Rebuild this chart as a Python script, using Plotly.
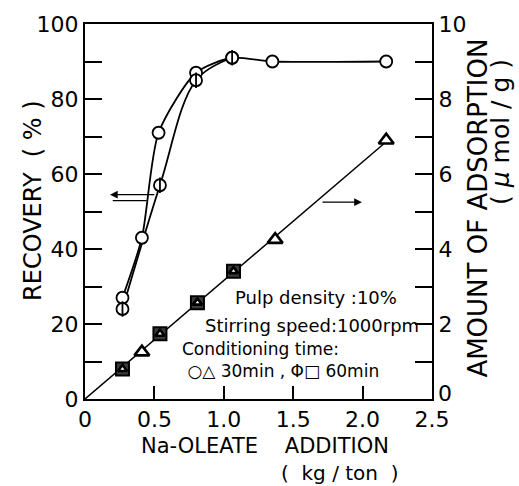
import numpy as np
import plotly.graph_objects as go

# ---------------- data ----------------
rec30_x = [0.27, 0.41, 0.53, 0.80, 1.06, 1.35, 2.17]
rec30_y = [27, 43, 71, 87, 91, 90, 90]
rec60_x = [0.27, 0.54, 0.80, 1.06]
rec60_y = [24, 57, 85, 91]

ads30_x = [0.27, 0.41, 0.54, 0.81, 1.07, 1.37, 2.17]
ads30_y = [0.80, 1.25, 1.74, 2.57, 3.41, 4.25, 6.90]
ads60_x = [0.27, 0.54, 0.81, 1.07]
ads60_y = [0.80, 1.74, 2.57, 3.41]

x_ticks = [0, 0.5, 1.0, 1.5, 2.0, 2.5]
x_ticktext = ["0", "0.5", "1.0", "1.5", "2.0", "2.5"]
y1_ticks = list(range(0, 101, 10))
y1_ticktext = [str(v) if v % 20 == 0 else "" for v in y1_ticks]
y2_ticks = list(range(0, 11))
y2_ticktext = [str(v) if (v % 2 == 0 and v > 0) else "" for v in y2_ticks]

# straight line through origin fitted to the adsorption data
ax_arr = np.array(ads30_x)
ay_arr = np.array(ads30_y)
slope = float((ax_arr * ay_arr).sum() / (ax_arr ** 2).sum())
fit_x = [0.0, max(ads30_x)]
fit_y = [v * slope for v in fit_x]

FONT = "DejaVu Sans"
BLACK = "#000000"

fig = go.Figure()

# recovery curves
fig.add_trace(go.Scatter(x=rec30_x, y=rec30_y, mode="lines",
                         line=dict(color=BLACK, width=1.8, shape="spline", smoothing=0.7),
                         showlegend=False))
fig.add_trace(go.Scatter(x=rec60_x, y=rec60_y, mode="lines",
                         line=dict(color=BLACK, width=1.8, shape="spline", smoothing=1.0),
                         showlegend=False))
# adsorption line
fig.add_trace(go.Scatter(x=fit_x, y=fit_y, mode="lines", yaxis="y2",
                         line=dict(color=BLACK, width=1.5), showlegend=False))

# recovery markers
fig.add_trace(go.Scatter(x=rec30_x, y=rec30_y, mode="markers",
                         marker=dict(symbol="circle", size=12, color="white",
                                     line=dict(color=BLACK, width=1.8)), showlegend=False))
fig.add_trace(go.Scatter(x=rec60_x, y=rec60_y, mode="markers",
                         marker=dict(symbol="circle", size=12, color="white",
                                     line=dict(color=BLACK, width=1.8)), showlegend=False))
fig.add_trace(go.Scatter(x=rec60_x, y=rec60_y, mode="markers",
                         marker=dict(symbol="line-ns", size=11,
                                     line=dict(color=BLACK, width=1.8)), showlegend=False))
# adsorption markers: squares (60 min) under triangles (30 min)
fig.add_trace(go.Scatter(x=ads60_x, y=ads60_y, mode="markers", yaxis="y2",
                         marker=dict(symbol="square", size=13, color="#3a3a3a",
                                     line=dict(color=BLACK, width=2)), showlegend=False))
tri_size = [8 if any(abs(xv - s) < 0.02 for s in ads60_x) else 13 for xv in ads30_x]
fig.add_trace(go.Scatter(x=ads30_x, y=ads30_y, mode="markers", yaxis="y2",
                         marker=dict(symbol="triangle-up", size=tri_size, color="white",
                                     opacity=1,
                                     line=dict(color=BLACK, width=2.6)), showlegend=False))

axis_common = dict(showline=True, linewidth=2, linecolor=BLACK, ticks="inside",
                   tickwidth=2, tickcolor=BLACK, showgrid=False, zeroline=False,
                   tickfont=dict(family=FONT, size=22, color=BLACK))

fig.update_layout(
    width=519, height=486,
    margin=dict(l=85, r=87, t=21, b=87),
    paper_bgcolor="white", plot_bgcolor="white",
    xaxis=dict(range=[0, 2.5], tickvals=x_ticks, ticktext=x_ticktext,
               ticklen=13, mirror=True, **axis_common),
    yaxis=dict(range=[0, 100], tickvals=y1_ticks, ticktext=y1_ticktext,
               ticklen=17, **axis_common),
    yaxis2=dict(range=[0, 10], tickvals=y2_ticks, ticktext=y2_ticktext,
                ticklen=17, overlaying="y", side="right", **axis_common),
)

ann = []
tf = dict(family=FONT, color=BLACK)
# right-axis zero label (sits up-right of the corner)
ann.append(dict(xref="paper", yref="paper", x=1.012, y=0.016, text="0",
                showarrow=False, xanchor="left", yanchor="middle",
                font=dict(size=22, **tf)))
# axis titles
ann.append(dict(xref="paper", yref="paper", x=-0.152, y=0.529, text="RECOVERY  ( % )",
                textangle=-90, showarrow=False, xanchor="center", yanchor="middle",
                font=dict(size=24, **tf)))
ann.append(dict(xref="paper", yref="paper", x=1.13, y=0.508, text="AMOUNT OF ADSORPTION",
                textangle=-90, showarrow=False, xanchor="center", yanchor="middle",
                font=dict(size=26, **tf)))
ann.append(dict(xref="paper", yref="paper", x=1.196, y=0.712, text="( <i>μ</i> mol / g )",
                textangle=-90, showarrow=False, xanchor="center", yanchor="middle",
                font=dict(size=25, **tf)))
ann.append(dict(xref="paper", yref="paper", x=0.52, y=-0.124, text="Na-OLEATE    ADDITION",
                showarrow=False, xanchor="center", yanchor="middle",
                font=dict(size=21, **tf)))
ann.append(dict(xref="paper", yref="paper", x=0.735, y=-0.198, text="(  kg / ton  )",
                showarrow=False, xanchor="center", yanchor="middle",
                font=dict(size=20, **tf)))
# condition text
ann.append(dict(x=1.066, y=27, text="Pulp density :10%", showarrow=False,
                xanchor="left", yanchor="middle", font=dict(size=18, **tf)))
ann.append(dict(x=0.85, y=19.6, text="Stirring speed:1000rpm", showarrow=False,
                xanchor="left", yanchor="middle", font=dict(size=18, **tf)))
ann.append(dict(x=0.684, y=10.3, align="left",
                text="Conditioning time:<br>\u00a0○△ 30min , Φ□ 60min", showarrow=False,
                xanchor="left", yanchor="middle", font=dict(size=17, **tf)))
# arrows (left: double-lined, right: single)
ann.append(dict(x=0.18, y=54.5, ax=0.51, ay=54.5, axref="x", ayref="y", text="",
                showarrow=True, arrowhead=2, arrowsize=1.1, arrowwidth=1.4, arrowcolor=BLACK))
ann.append(dict(x=0.20, y=52.9, ax=0.455, ay=52.9, axref="x", ayref="y", text="",
                showarrow=True, arrowhead=0, arrowwidth=1.4, arrowcolor=BLACK))
ann.append(dict(x=1.995, y=52.5, ax=1.70, ay=52.5, axref="x", ayref="y", text="",
                showarrow=True, arrowhead=2, arrowsize=1.1, arrowwidth=1.4, arrowcolor=BLACK))
fig.update_layout(annotations=ann)

fig.write_html("out.html")
